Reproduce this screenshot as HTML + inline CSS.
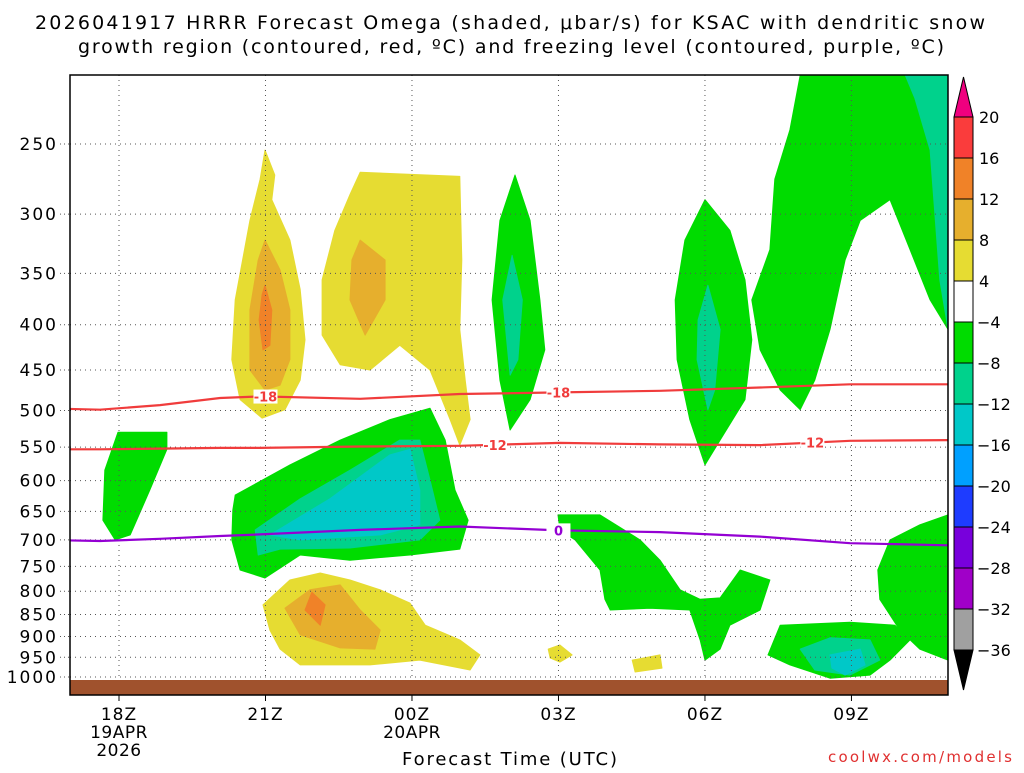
<!DOCTYPE html>
<html><head><meta charset="utf-8"><style>
body{margin:0;background:#fff;width:1024px;height:768px;overflow:hidden;font-family:"Liberation Sans",sans-serif}
svg text{font-family:"DejaVu Sans","Liberation Sans",sans-serif}
</style></head><body>
<svg id="chart" width="1024" height="768" xmlns="http://www.w3.org/2000/svg">
<text x="35" y="29" font-size="19" textLength="950" lengthAdjust="spacing">2026041917 HRRR Forecast Omega (shaded, μbar/s) for KSAC with dendritic snow</text>
<text x="78" y="53" font-size="19" textLength="866" lengthAdjust="spacing">growth region (contoured, red, ºC) and freezing level (contoured, purple, ºC)</text>
<defs><clipPath id="pc"><rect x="70" y="75" width="878" height="605"/></clipPath></defs>
<g id="shades" clip-path="url(#pc)"></g>
<rect x="70" y="680" width="878" height="15" fill="#a0522d"/>
<g id="grid"></g>
<g id="lines" clip-path="url(#pc)"></g>
<g id="labels"></g>
<rect x="70" y="75" width="878" height="620" fill="none" stroke="#000" stroke-width="1.5"/>
<g id="axes"></g>
<g id="cbar"></g>
<text x="402" y="765" font-size="18" textLength="215" lengthAdjust="spacing">Forecast Time (UTC)</text>
<text x="828" y="762" font-size="15" fill="#e03030" textLength="184" lengthAdjust="spacing">coolwx.com/models</text>
</svg>
<script>
const pTicks=[250,300,350,400,450,500,550,600,650,700,750,800,850,900,950,1000];
const tHours=[0,3,6,9,12,15];
const tLabels=["18Z","21Z","00Z","03Z","06Z","09Z"];
const cbLevels=[20,16,12,8,4,-4,-8,-12,-16,-20,-24,-28,-32,-36];
const cbColors=["#fa3c3c","#f08228","#e6af2d","#e6dc32","#ffffff","#00dc00","#00d28c","#00c8c8","#00a0ff","#1e3cff","#7800dc","#a000c8","#a0a0a0"];
const shadeYellow1=[[2.99,254],[3.19,271],[3.13,289],[3.5,321],[3.71,365],[3.81,416],[3.71,462],[3.4,499],[2.93,510],[2.48,486],[2.31,438],[2.38,375],[2.68,305],[2.89,274]];
const shadeOrange1=[[2.99,321],[3.3,347],[3.5,385],[3.5,438],[3.3,468],[2.99,474],[2.68,450],[2.68,385],[2.85,338]];
const shadeDark1=[[2.99,361],[3.13,385],[3.09,422],[2.95,427],[2.87,395],[2.93,370]];
const shadeYellow2=[[4.94,269],[6.98,272],[7.02,338],[6.98,405],[7.09,462],[7.19,512],[6.98,547],[6.78,512],[6.37,450],[5.75,422],[5.14,450],[4.53,444],[4.16,411],[4.16,356],[4.42,313],[4.73,285]];
const shadeOrange2=[[4.94,321],[5.45,338],[5.45,375],[5.04,411],[4.73,375],[4.77,338]];
const shadeGreen3=[[8.11,271],[8.42,305],[8.62,375],[8.72,427],[8.42,486],[8.01,526],[7.8,462],[7.64,375],[7.8,305]];
const shadeTeal3=[[8.05,334],[8.26,375],[8.17,438],[8.01,456],[7.86,375]];
const shadeGreen4=[[12.0,289],[12.51,313],[12.82,356],[12.96,416],[12.82,486],[12.31,540],[12.0,576],[11.69,512],[11.43,438],[11.39,375],[11.59,321]];
const shadeTeal4=[[12.06,361],[12.31,405],[12.2,474],[12.06,499],[11.84,438],[11.86,395]];
const shadeGreen5=[[13.95,209],[16.98,209],[16.98,405],[16.61,375],[16.2,329],[15.79,289],[15.18,305],[14.87,338],[14.56,405],[14.25,462],[13.95,499],[13.54,474],[13.13,427],[12.96,375],[13.33,329],[13.43,274],[13.74,241]];
const shadeTeal5=[[16.1,209],[16.98,209],[16.98,405],[16.81,356],[16.61,254],[16.3,222]];
const shadeGreen6=[[-0.02,529],[0.98,529],[0.98,553],[0.63,615],[0.23,691],[-0.08,700],[-0.33,665],[-0.29,584]];
const shadeGreen7=[[2.38,623],[3.5,576],[4.53,540],[5.55,512],[6.37,497],[6.68,540],[6.88,615],[7.15,665],[6.98,717],[5.96,728],[4.73,738],[3.71,728],[2.99,773],[2.48,757],[2.31,700],[2.33,648]];
const shadeTeal7=[[2.79,682],[3.71,629],[4.73,584],[5.75,540],[6.16,540],[6.37,599],[6.57,665],[6.16,700],[4.73,715],[3.3,717],[2.85,728]];
const shadeCyan7=[[3.09,691],[4.32,629],[5.55,561],[5.96,553],[6.16,615],[6.16,673],[5.35,691],[3.71,700]];
const shadeGreen8=[[8.99,656],[9.85,656],[10.67,700],[11.08,738],[11.49,797],[11.9,817],[12.31,814],[12.72,757],[13.33,777],[13.13,840],[12.51,874],[12.31,930],[12.0,957],[11.9,908],[11.69,840],[10.87,836],[10.06,840],[9.95,817],[9.85,757],[9.34,700],[9.03,682]];
const shadeGreen9=[[16.98,656],[16.98,957],[16.4,930],[15.99,885],[15.58,817],[15.54,757],[15.79,700],[16.4,673]];
const shadeGreen10=[[13.54,874],[14.97,867],[15.89,874],[16.2,908],[15.79,957],[15.38,995],[14.56,1003],[13.74,969],[13.29,944]];
const shadeTeal10=[[13.95,930],[14.56,903],[15.38,908],[15.58,957],[14.97,995],[14.25,982]];
const shadeCyan10=[[14.56,944],[15.18,930],[15.28,969],[14.87,995],[14.6,977]];
const shadeYellow11=[[2.95,829],[3.5,777],[4.12,763],[4.73,777],[5.35,797],[5.96,825],[6.27,874],[6.98,908],[7.39,944],[7.19,982],[6.16,957],[5.14,969],[3.71,969],[3.3,930],[3.09,885]];
const shadeOrange11=[[3.4,836],[3.91,797],[4.53,787],[4.94,840],[5.35,885],[5.24,930],[4.53,927],[3.71,896]];
const shadeDark11=[[3.95,802],[4.22,829],[4.12,874],[3.81,840]];
const shadeYellowBlobA=[[8.79,930],[9.03,920],[9.28,944],[9.03,962],[8.83,952]];
const shadeYellowBlobB=[[10.51,957],[11.08,944],[11.12,977],[10.57,987]];
const shades=[
 ["#e6dc32",shadeYellow1,"yellow-plume-left"],["#e6af2d",shadeOrange1,"orange-core-left"],["#f08228",shadeDark1,"dark-orange-core-left"],
 ["#e6dc32",shadeYellow2,"yellow-plume-mid"],["#e6af2d",shadeOrange2,"orange-core-mid"],
 ["#00dc00",shadeGreen3,"green-plume-03z"],["#00d28c",shadeTeal3,"teal-core-03z"],
 ["#00dc00",shadeGreen4,"green-plume-06z"],["#00d28c",shadeTeal4,"teal-core-06z"],
 ["#00dc00",shadeGreen5,"green-region-upper-right"],["#00d28c",shadeTeal5,"teal-region-upper-right"],
 ["#00dc00",shadeGreen6,"green-region-18z"],
 ["#00dc00",shadeGreen7,"green-region-lower-mid"],["#00d28c",shadeTeal7,"teal-region-lower-mid"],["#00c8c8",shadeCyan7,"cyan-region-lower-mid"],
 ["#00dc00",shadeGreen8,"green-region-low-03z"],["#00dc00",shadeGreen9,"green-region-low-right"],
 ["#00dc00",shadeGreen10,"green-region-bottom-right"],["#00d28c",shadeTeal10,"teal-region-bottom-right"],["#00c8c8",shadeCyan10,"cyan-region-bottom-right"],
 ["#e6dc32",shadeYellow11,"yellow-region-low"],["#e6af2d",shadeOrange11,"orange-region-low"],["#f08228",shadeDark11,"dark-orange-region-low"],
 ["#e6dc32",shadeYellowBlobA,"yellow-blob-a"],["#e6dc32",shadeYellowBlobB,"yellow-blob-b"]
];
const lineHours=[-1.58,-0.39,0.84,2.07,2.89,4.94,6.98,9.03,11.08,13.13,14.97,16.98];
const t18Values=[497,499,493,484,482,485,479,477,475,471,467,467];
const t12Values=[553,553,552,551,551,549,548,544,546,547,541,540];
const t0Values=[700,702,698,693,690,682,676,683,686,694,706,710];
const NS="http://www.w3.org/2000/svg";
const xS=h=>119+h*48.83;
const yS=p=>144+384.5*Math.log(p/250);
function mk(tag,attrs,parent){const e=document.createElementNS(NS,tag);for(const k in attrs)e.setAttribute(k,attrs[k]);parent.appendChild(e);return e;}
const gS=document.getElementById('shades');
shades.forEach(s=>{
 const pts=s[1].map(d=>xS(d[0]).toFixed(1)+","+yS(d[1]).toFixed(1)).join(" ");
 const el=mk('polygon',{points:pts,fill:s[0],stroke:s[0],'stroke-width':1,'stroke-linejoin':'round'},gS);
 
 
});
const gG=document.getElementById('grid'),gA=document.getElementById('axes');
pTicks.forEach(p=>{
 const y=yS(p);
 const l=mk('line',{x1:70,x2:948,y1:y,y2:y,stroke:'#555','stroke-width':1,'stroke-dasharray':'1,4'},gG);
 
 
 mk('line',{x1:60,x2:70,y1:y,y2:y,stroke:'#555','stroke-dasharray':'1,3'},gA);
 const t=mk('text',{x:58,y:y+6,'font-size':17,'text-anchor':'end','letter-spacing':'2'},gA);t.textContent=p;
 
 
});
tHours.forEach((h,i)=>{
 const x=xS(h);
 const l=mk('line',{x1:x,x2:x,y1:75,y2:680,stroke:'#555','stroke-width':1,'stroke-dasharray':'1,4'},gG);
 
 
 mk('line',{x1:x,x2:x,y1:695,y2:701,stroke:'#000'},gA);
 const t=mk('text',{x:x,y:720,'font-size':17,'text-anchor':'middle','letter-spacing':'1'},gA);t.textContent=tLabels[i];
 
 
});
[["19APR",0,738],["2026",0,756],["20APR",6,738]].forEach(a=>{
 const t=mk('text',{x:xS(a[1]),y:a[2],'font-size':17,'text-anchor':'middle','letter-spacing':'0.5'},gA);t.textContent=a[0];
 
 
});
const gL=document.getElementById('lines'),gLb=document.getElementById('labels');
[[t18Values,'#f03c3c','isotherm-minus18'],[t12Values,'#f03c3c','isotherm-minus12'],[t0Values,'#9400d3','freezing-level']].forEach(s=>{
 const d=s[0].map((p,i)=>(i?'L':'M')+xS(lineHours[i]).toFixed(1)+','+yS(p).toFixed(1)).join('');
 const el=mk('path',{d:d,fill:'none',stroke:s[1],'stroke-width':2.2},gL);
 
 
});
function interp(arr,h){for(let i=1;i<lineHours.length;i++){if(h<=lineHours[i]){const f=(h-lineHours[i-1])/(lineHours[i]-lineHours[i-1]);return arr[i-1]+f*(arr[i]-arr[i-1]);}}return arr[arr.length-1];}
[[t18Values,3,'-18','#f03c3c'],[t18Values,9,'-18','#f03c3c'],[t12Values,7.7,'-12','#f03c3c'],[t12Values,14.2,'-12','#f03c3c'],[t0Values,9,'0','#9400d3']].forEach(a=>{
 const x=xS(a[1]),y=yS(interp(a[0],a[1]));
 mk('rect',{x:x-12,y:y-7,width:24,height:14,fill:'#fff'},gLb);
 const t=mk('text',{x:x,y:y+5,'font-size':13,'font-weight':'bold','text-anchor':'middle',fill:a[3]},gLb);t.textContent=a[2];
 
 
});
const gC=document.getElementById('cbar');
const boxH=(650-117)/13;
cbColors.forEach((c,i)=>{
 const r=mk('rect',{x:954,y:117+i*boxH,width:19,height:boxH,fill:c,stroke:'#000','stroke-width':1},gC);
 
 
});
mk('polygon',{points:'954,117 973,117 963.5,77',fill:'#f0007f',stroke:'#000'},gC);
mk('polygon',{points:'954,650 973,650 963.5,690',fill:'#000',stroke:'#000'},gC);
cbLevels.forEach((v,i)=>{
 const t=mk('text',{x:v<0?977:979,y:117+i*boxH+6,'font-size':16},gC);t.textContent=v<0?'−'+(-v):v;
 
 
});
</script>
</body></html>
